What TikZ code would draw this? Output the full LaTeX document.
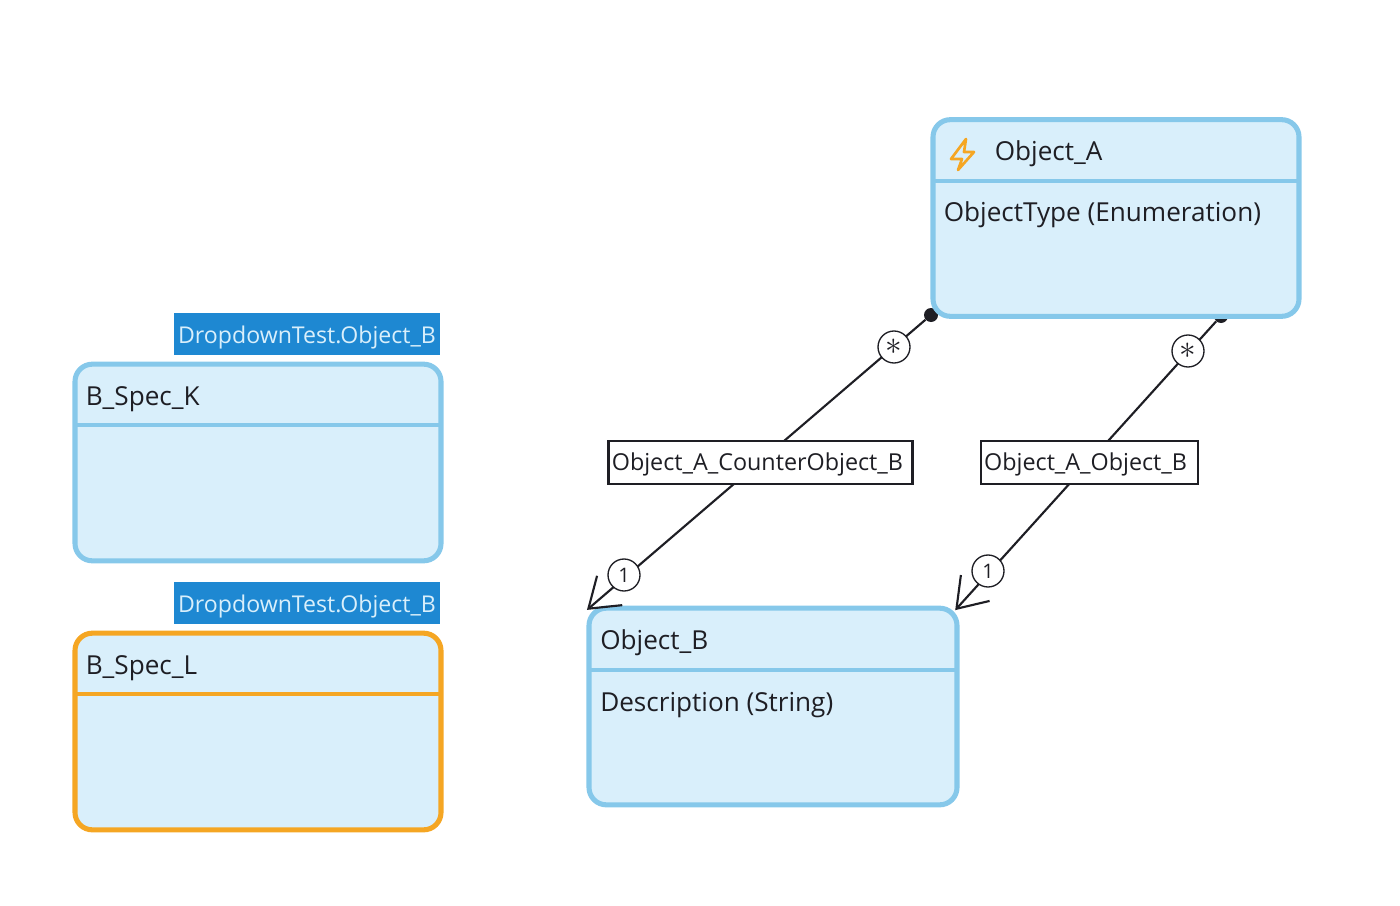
\documentclass[tikz,border=0pt]{standalone}
\usepackage{fontspec}
\setmainfont{Open Sans}
\usetikzlibrary{arrows.meta}
\definecolor{boxfill}{HTML}{D9EFFB}
\definecolor{boxline}{HTML}{86C8EA}
\definecolor{specline}{HTML}{F5A623}
\definecolor{tagfill}{HTML}{1E88D2}
\definecolor{inkline}{HTML}{1E1E24}
\tikzset{
  classbox/.style={draw=boxline,fill=boxfill,line width=3.8pt,rounded corners=13pt,outer sep=0pt,minimum width=274.5pt,minimum height=147.5pt},
  classline/.style={draw=boxline,line width=3.6pt},
  classtext/.style={anchor=base west,inner sep=0pt,text=inkline,font=\fontsize{19.6}{24}\selectfont},
  tagbox/.style={fill=tagfill,text=boxfill,inner sep=0pt,minimum width=200pt,minimum height=32pt,text height=17pt,text depth=3.5pt,font=\fontsize{17.35}{22}\selectfont},
  assoc/.style={draw=inkline,line width=1.6pt,shorten >=-2pt,-{Straight Barb[length=21pt,width=29pt,line width=1.6pt]}},
  enddot/.style={circle,fill=inkline,inner sep=0pt,minimum size=10.5pt},
  multi/.style={circle,draw=inkline,fill=white,line width=1pt,inner sep=0pt,minimum size=24pt,text=inkline,font=\fontsize{15}{18}\selectfont},
  rolebox/.style={draw=inkline,fill=white,line width=1.7pt,inner xsep=2.5pt,inner ysep=0pt,align=left,minimum height=32pt,text height=15pt,text depth=3.75pt,text=inkline,font=\fontsize{17.5}{22}\selectfont},
}
\begin{document}
\begin{tikzpicture}[x=0.75pt,y=0.75pt,yscale=-1,xscale=1]
\useasboundingbox (0,0) rectangle (1400,906);

%Connector ends
\node (dotAC) [enddot] at (931,315) {};
\node (dotAB) [enddot] at (1221,316) {};

%Class boxes
\node (objA) [classbox] at (1116,218) {};
\node (objB) [classbox,minimum width=276pt] at (773,706.5) {};
\node (specK) [classbox] at (258,462.5) {};
\node (specL) [classbox,draw=specline] at (258,731.5) {};

%Header lines
\draw [classline] (objA.west |- 0,181) -- (objA.east |- 0,181);
\draw [classline] (objB.west |- 0,670) -- (objB.east |- 0,670);
\draw [classline] (specK.west |- 0,425) -- (specK.east |- 0,425);
\draw [classline,draw=specline] (specL.west |- 0,694) -- (specL.east |- 0,694);

%Lightning icon
\draw [specline,line width=2pt,line join=round] (966,139) -- (951,159) -- (962,159) -- (958,170) -- (974,152) -- (964,152) -- cycle;

%Associations
\draw [assoc] (dotAC) -- (objB.north west);
\draw [assoc] (dotAB) -- (objB.north east);

% Text Node
\node (nameA) [classtext] at (994.5,160) {Object\_A};
\node (attrA) [classtext] at (943.5,221.5) {ObjectType (Enumeration)};
\node (nameB) [classtext] at (600,649) {Object\_B};
\node (attrB) [classtext] at (600,711) {Description (String)};
\node (nameK) [classtext] at (85.5,405) {B\_Spec\_K};
\node (nameL) [classtext] at (85.5,674) {B\_Spec\_L};

% Tags
\node (tagK) [tagbox] at (307,334) {DropdownTest.Object\_B};
\node (tagL) [tagbox] at (307,603) {DropdownTest.Object\_B};

% Role labels
\node (roleAC) [rolebox,text width=223pt] at (760.5,462.5) {Object\_A\_CounterObject\_B};
\node (roleAB) [rolebox,text width=158pt] at (1089.5,462.5) {Object\_A\_Object\_B};

% Multiplicities
\node (multAC) [multi] at (894,347) {\fontsize{24}{24}\selectfont$\ast$};
\node (multAB) [multi] at (1188,351) {\fontsize{24}{24}\selectfont$\ast$};
\node (multBC) [multi] at (624,575) {1};
\node (multBB) [multi] at (988,571) {1};

\end{tikzpicture}
\end{document}
